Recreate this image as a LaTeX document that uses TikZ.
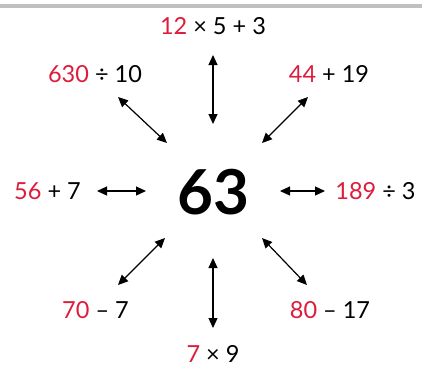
\documentclass[tikz,border=0pt]{standalone}
\usepackage{fontspec}
\setmainfont{Lato}
\usetikzlibrary{arrows.meta}
\definecolor{rojo}{RGB}{222,28,60}
\definecolor{gris}{RGB}{192,192,192}
\newcommand{\rj}[1]{\textcolor{rojo}{#1}}

\begin{document}
\begin{tikzpicture}[x=1pt, y=-1pt,
        expr/.style={
            anchor=base,
            inner sep=0pt,
            font=\fontsize{23.5}{23.5}\selectfont
        },
        centro/.style={
            anchor=base,
            inner sep=0pt,
            font=\fontsize{62}{62}\selectfont\bfseries
        },
        flecha/.style={{Triangle[length=10pt,width=9pt]}-{Triangle[length=10pt,width=9pt]}, line width=1.2pt}
    ]
        \useasboundingbox (0,0) rectangle (422,368);
        \draw[gris, line width=4pt] (0,6.3) -- (422,6.3);

        \node[centro] (n63) at (213.5,214) {63};

        \node[expr] (arriba) at (213,34) {\rj{12} × 5 + 3};
        \node[expr] (arribaizq) at (95,82) {\rj{630} ÷ 10};
        \node[expr] (arribader) at (329,82) {\rj{44} + 19};
        \node[expr] (izq) at (47.5,199) {\rj{56} + 7};
        \node[expr] (der) at (375.5,199) {\rj{189} ÷ 3};
        \node[expr] (abajoizq) at (95.5,318) {\rj{70} – 7};
        \node[expr] (abajoder) at (330,318) {\rj{80} – 17};
        \node[expr] (abajo) at (213,362) {\rj{7} × 9};

        % extremos de las flechas
        \coordinate (a1) at (213,55);   \coordinate (a2) at (213,124);
        \coordinate (b1) at (213,258);  \coordinate (b2) at (213,328);
        \coordinate (i1) at (97,191);   \coordinate (i2) at (146,191);
        \coordinate (d1) at (280,191);  \coordinate (d2) at (325,191);
        \coordinate (ai1) at (118,97);  \coordinate (ai2) at (167,143);
        \coordinate (ad1) at (308,97);  \coordinate (ad2) at (262,143);
        \coordinate (bi1) at (165,238); \coordinate (bi2) at (118,285);
        \coordinate (bd1) at (262,238); \coordinate (bd2) at (307,285);

        \draw[flecha] (a1) -- (a2);
        \draw[flecha] (b1) -- (b2);
        \draw[flecha] (i1) -- (i2);
        \draw[flecha] (d1) -- (d2);
        \draw[flecha] (ai1) -- (ai2);
        \draw[flecha] (ad1) -- (ad2);
        \draw[flecha] (bi1) -- (bi2);
        \draw[flecha] (bd1) -- (bd2);
    \end{tikzpicture}
\end{document}
